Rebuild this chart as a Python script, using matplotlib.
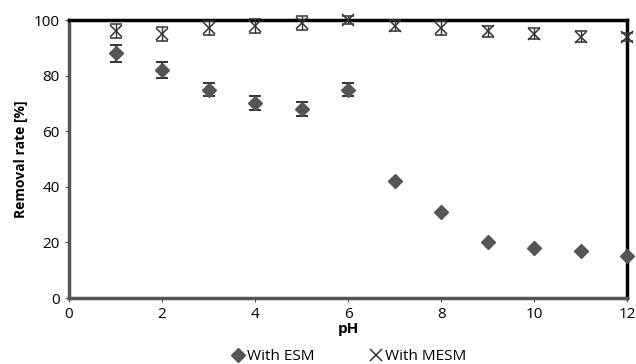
import numpy as np
import matplotlib.pyplot as plt
from matplotlib.lines import Line2D

plt.rcParams['font.family'] = ['Open Sans', 'DejaVu Sans']

ph = [1, 2, 3, 4, 5, 6, 7, 8, 9, 10, 11, 12]
esm = [88, 82, 75, 70, 68, 75, 42, 31, 20, 18, 17, 15]
esm_err = [3, 3, 2.5, 2.5, 2.5, 2.5, 0, 0, 0, 0, 0, 0]
mesm = [96, 95, 97, 98, 99, 100, 98, 97, 96, 95, 94, 94]
mesm_err = [2.5, 2.5, 2.5, 2.5, 2.5, 1.5, 2, 2.5, 2, 2, 2, 1.5]

fig = plt.figure(figsize=(6.36, 3.64), dpi=100)
ax = fig.add_axes([0.1085, 0.181, 0.8775, 0.764])

ax.errorbar(ph, esm, yerr=esm_err, fmt='D', color='#555555', markersize=7,
            ecolor='#333333', elinewidth=1.4, capsize=4, capthick=1.4,
            clip_on=False, zorder=3)
ax.errorbar(ph, mesm, yerr=mesm_err, fmt='x', color='#333333', markersize=9,
            markeredgewidth=1.1, ecolor='#333333', elinewidth=1.0, capsize=4,
            capthick=1.2, clip_on=False, zorder=3)

ax.set_xlim(0, 12)
ax.set_ylim(0, 100)
ax.set_xticks(range(0, 13, 2))
ax.set_yticks(range(0, 101, 20))
ax.tick_params(labelsize=11, length=3, color='#555555')

for side in ['left', 'bottom']:
    ax.spines[side].set_color('#555555')
    ax.spines[side].set_linewidth(2.5)
for side in ['top', 'right']:
    ax.spines[side].set_color('black')
    ax.spines[side].set_linewidth(2.5)

ax.set_xlabel('pH', fontsize=11, fontweight='bold', labelpad=0)
ax.set_ylabel('Removal rate [%]', fontsize=10, fontweight='bold')

handles = [
    Line2D([], [], marker='D', color='#555555', linestyle='none', markersize=7),
    Line2D([], [], marker='x', color='#333333', linestyle='none', markersize=9,
           markeredgewidth=1.1),
]
ax.legend(handles, ['With ESM', 'With MESM'], loc='upper center',
          bbox_to_anchor=(0.5, -0.135), ncol=2, frameon=False, fontsize=11,
          handletextpad=0.1, columnspacing=3.5, handlelength=1.0)

fig.savefig('out.png', dpi=100)
